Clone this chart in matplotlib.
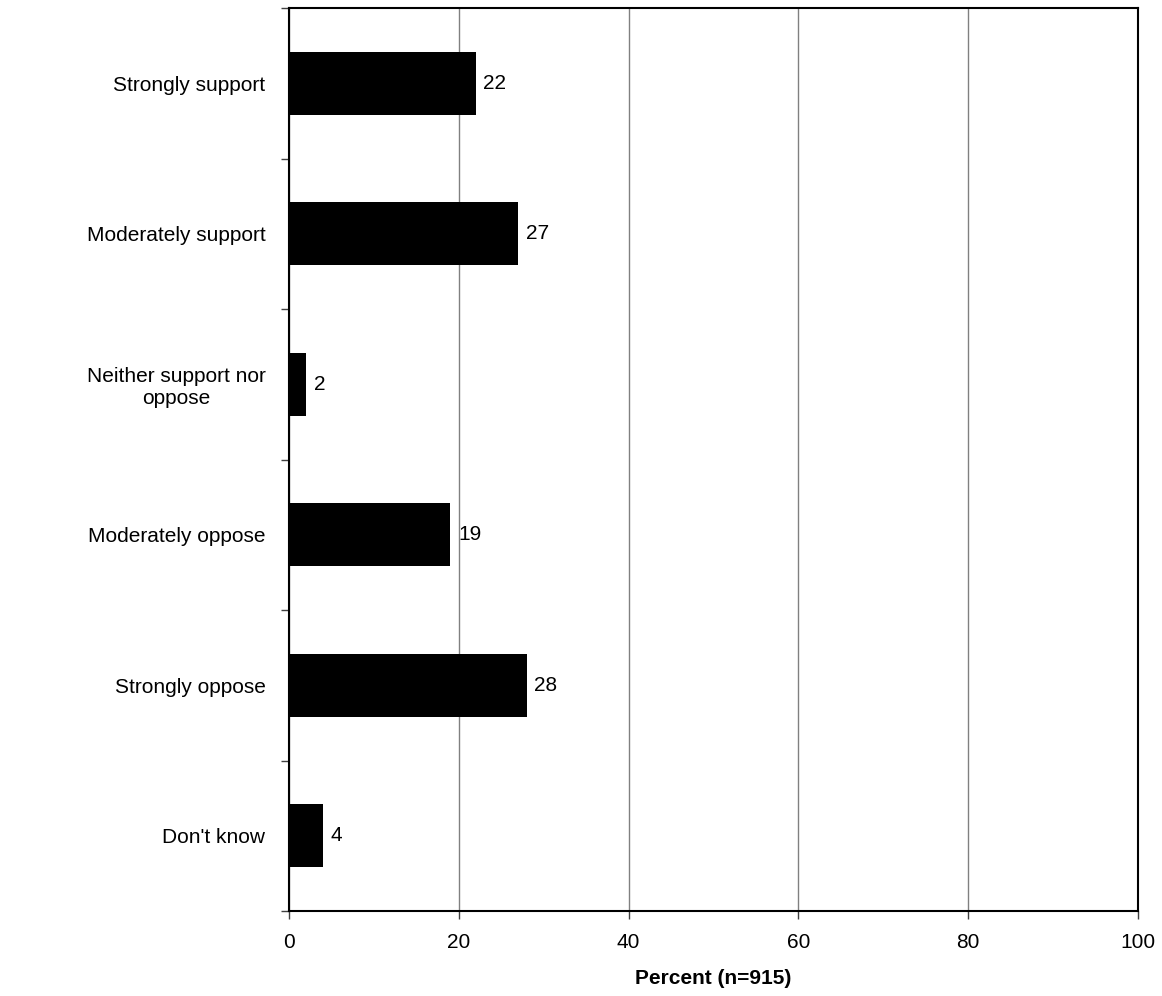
import matplotlib.pyplot as plt
import numpy as np

categories = ['Strongly support', 'Moderately support', 'Neither support nor\noppose',
              'Moderately oppose', 'Strongly oppose', "Don't know"]
percent = [22, 27, 2, 19, 28, 4]
x_ticks = [0, 20, 40, 60, 80, 100]

plt.rcParams['font.family'] = ['Liberation Sans', 'DejaVu Sans']
FS = 15

fig = plt.figure(figsize=(11.62, 9.96), dpi=100)
ax = fig.add_axes([289 / 1162, 1 - 911 / 996, (1138 - 289) / 1162, (911 - 8) / 996])

y = np.arange(len(categories))
ax.barh(y, percent, height=0.42, color='black', zorder=3)
for yi, v in zip(y, percent):
    ax.text(v + 0.9, yi, str(v), va='center', ha='left', fontsize=FS)

ax.set_xlim(0, 100)
ax.set_ylim(len(categories) - 0.5, -0.5)
ax.set_xticks(x_ticks)
ax.set_xticklabels([str(t) for t in x_ticks], fontsize=FS)
ax.xaxis.grid(True, color='#808080', linewidth=1, zorder=0)

# category labels at bar centres, ticks on the category boundaries
ax.set_yticks(y)
ax.set_yticklabels(categories, fontsize=FS, ha='right', multialignment='center')
ax.tick_params(axis='y', which='major', length=0, pad=17)
ax.set_yticks(np.arange(len(categories) + 1) - 0.5, minor=True)
ax.tick_params(axis='y', which='minor', length=6, width=1, color='#404040')
ax.tick_params(axis='x', length=6, width=1, pad=10, color='#404040')

for s in ax.spines.values():
    s.set_linewidth(1.5)
    s.set_color('black')

ax.set_xlabel('Percent (n=915)', fontsize=FS, fontweight='bold', labelpad=12)

fig.savefig('out.png', dpi=100)
